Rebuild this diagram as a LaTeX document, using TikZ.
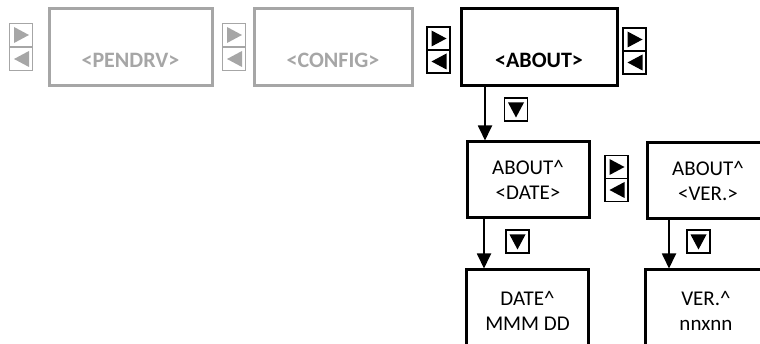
\documentclass[tikz,border=0pt]{standalone}
\usepackage{fontspec}
\setmainfont{Carlito}
\usetikzlibrary{arrows.meta,calc}
\definecolor{lgray}{RGB}{166,166,166}
\tikzset{
  box/.style={draw=black, line width=3pt, minimum width=122, minimum height=76, inner sep=0, align=center, font=\fontsize{21}{25}\selectfont},
  topbox/.style={draw=#1, line width=3pt, minimum height=77, inner sep=0},
  toptext/.style={text=#1, font=\fontsize{22}{20}\selectfont\bfseries, inner sep=0},
  btn/.style={draw=#1, line width=1.5pt, minimum width=23, minimum height=23, inner sep=0},
  rtri/.style={path picture={\fill[#1] ($(path picture bounding box.center)+(-7,-8)$) -- ++(0,16) -- ++(15,-8) -- cycle;}},
  ltri/.style={path picture={\fill[#1] ($(path picture bounding box.center)+(8,-8)$) -- ++(0,16) -- ++(-15,-8) -- cycle;}},
  dtri/.style={path picture={\fill[#1] ($(path picture bounding box.center)+(-8,-7)$) -- ++(16,0) -- ++(-8,15) -- cycle;}},
  arr/.style={line width=1.8pt, -{Triangle[length=15pt,width=14pt]}}
}
\begin{document}
\begin{tikzpicture}[x=1pt,y=-1pt]
\useasboundingbox (0,0) rectangle (760,344);
\clip (0,0) rectangle (760,344);
% gray buttons
\node[btn=lgray, rtri=lgray] (g1r) at (21,35) {};
\node[btn=lgray, ltri=lgray] (g1l) at (21,59) {};
\node[btn=lgray, rtri=lgray] (g2r) at (234,35) {};
\node[btn=lgray, ltri=lgray] (g2l) at (234,59) {};
% black buttons
\node[btn=black, rtri=black] (b1r) at (438.5,38.5) {};
\node[btn=black, ltri=black] (b1l) at (438.5,61.5) {};
\node[btn=black, rtri=black] (b2r) at (634.5,39.5) {};
\node[btn=black, ltri=black] (b2l) at (634.5,62.5) {};
\node[btn=black, rtri=black] (b3r) at (616.5,167) {};
\node[btn=black, ltri=black] (b3l) at (616.5,190) {};
% down buttons
\node[btn=black, dtri=black] (d1) at (516,109.5) {};
\node[btn=black, dtri=black] (d2) at (517.5,241.5) {};
\node[btn=black, dtri=black] (d3) at (698.5,241.5) {};
% top boxes
\node[topbox=lgray, minimum width=163] (pendrv) at (130.5,47.5) {};
\node[toptext=lgray] (pendrvt) at ($(pendrv.center)+(0,13)$) {<PENDRV>};
\node[topbox=lgray, minimum width=158] (config) at (333,47.5) {};
\node[toptext=lgray] (configt) at ($(config.center)+(0,13)$) {<CONFIG>};
\node[draw=black, line width=3pt, minimum width=156, minimum height=77, inner sep=0] (about) at (539,47.5) {};
\node[toptext=black] (aboutt) at ($(about.center)+(0,13)$) {<ABOUT>};
% lower boxes
\node[box] (dateab) at (528,180) {ABOUT\^{}\\<DATE>};
\node[box] (verab) at (708,181) {ABOUT\^{}\\<VER.>};
\node[box, minimum height=82] (date) at (527.5,311) {DATE\^{}\\MMM DD};
\node[box, minimum height=82] (ver) at (706,311) {VER.\^{}\\nnxnn};
% arrows
\draw[arr] ([xshift=-54pt]about.south) -- ([xshift=-54pt]about.south |- dateab.north);
\draw[arr] ([xshift=-44pt]dateab.south) -- ([xshift=-44pt]dateab.south |- date.north);
\draw[arr] ([xshift=-39pt]verab.south) -- ([xshift=-39pt]verab.south |- ver.north);
\end{tikzpicture}
\end{document}
